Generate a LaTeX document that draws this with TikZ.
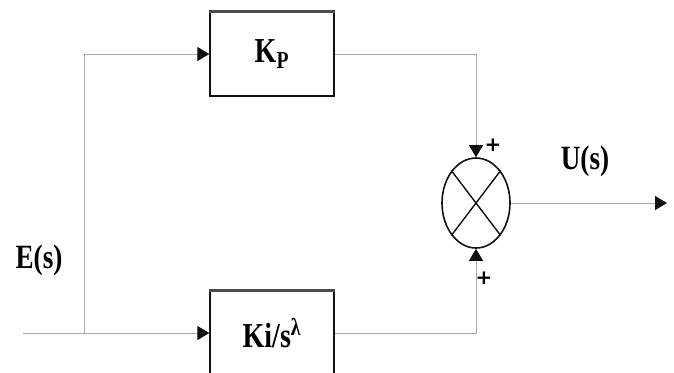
\documentclass[tikz,border=0pt]{standalone}
\usepackage{fontspec}
\setmainfont{Liberation Serif}
\newfontfamily\signfont{DejaVu Sans}
\usepackage{graphicx}
\usetikzlibrary{arrows.meta,shapes.geometric}
\definecolor{pidink}{HTML}{111111}
\definecolor{pidwire}{HTML}{A8A8A8}
\newcommand{\narrow}[1]{\scalebox{0.8}[1]{#1}}
\tikzset{
  blk/.style={draw=pidink, line width=0.65pt, fill=white, minimum width=62pt, minimum height=42pt, inner sep=0pt, font=\fontsize{17.5}{19}\selectfont\bfseries},
  sumnode/.style={ellipse, draw=pidink, line width=0.8pt, minimum width=34pt, minimum height=45pt, inner sep=0pt},
  lbl/.style={font=\fontsize{17}{19}\selectfont\bfseries, inner sep=0pt},
  sgn/.style={font=\signfont\fontsize{10}{12}\selectfont\bfseries, inner sep=0pt},
  wire/.style={draw=pidwire, line width=0.5pt, -{Triangle[length=6pt, width=7pt, color=pidink]}},
}

\begin{document}
\begin{tikzpicture}[x=0.5pt,y=-0.5pt]
  \useasboundingbox (0,0) rectangle (674,372);
  \node[blk] (kp) at (272,54) {\narrow{K\textsubscript{P}}};
  \node[blk] (ki) at (272,333) {\narrow{Ki/s\textsuperscript{λ}}};
  \draw[pidink!75, line width=1.5pt] (kp.north west) -- (kp.north east);
  \draw[pidink!75, line width=1.5pt] (ki.north west) -- (ki.north east);
  \node[sumnode] (sum) at (476,203) {};
  \draw[pidink, line width=0.7pt] (sum.north west) -- (sum.south east);
  \draw[pidink, line width=0.7pt] (sum.south west) -- (sum.north east);
  \coordinate (in) at (23,333);
  \coordinate (split) at (84,333);
  \coordinate (out) at (667,203);
  % signal paths
  \draw[wire] (in) -- (ki.west);
  \draw[wire] (split) |- (kp.west);
  \draw[wire] (kp.east) -| (sum.north);
  \draw[wire] (ki.east) -| (sum.south);
  \draw[wire] (sum.east) -- (out);
  \node[lbl] (es) at (39,260) {\narrow{E(s)}};
  \node[lbl] (us) at (585,161) {\narrow{U(s)}};
  \node[sgn] (ptop) at (493,145) {+};
  \node[sgn] (pbot) at (484,278) {+};
\end{tikzpicture}
\end{document}
